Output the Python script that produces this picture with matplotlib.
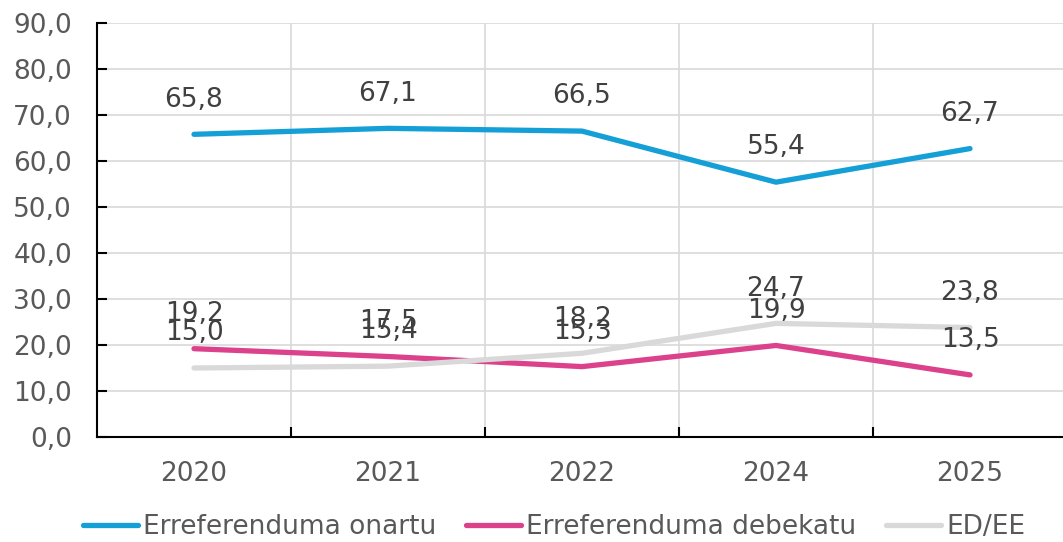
import numpy as np
import matplotlib.pyplot as plt
from matplotlib.ticker import FuncFormatter

years = ['2020', '2021', '2022', '2024', '2025']
onartu = [65.8, 67.1, 66.5, 55.4, 62.7]
debekatu = [19.2, 17.5, 15.3, 19.9, 13.5]
ed_ee = [15.0, 15.4, 18.2, 24.7, 23.8]

names = ['Erreferenduma onartu', 'Erreferenduma debekatu', 'ED/EE']
colors = ['#149FD7', '#DC418C', '#D9D9D9']

plt.rcParams['font.family'] = 'DejaVu Sans'
FS = 19

fig = plt.figure(figsize=(10.63, 5.42), dpi=100)
ax = fig.add_axes([97 / 1063, 1 - 437 / 542, 970 / 1063, 414 / 542])

x = np.arange(len(years))
for vals, name, col in zip([onartu, debekatu, ed_ee], names, colors):
    ax.plot(x, vals, color=col, lw=3.8, solid_capstyle='round',
            solid_joinstyle='round', label=name)

# labels drawn after lines so they sit on top
for vals in [onartu, debekatu, ed_ee]:
    for xi, v in zip(x, vals):
        ax.annotate(f'{v:.1f}'.replace('.', ','), (xi, v), xytext=(0, 25),
                    textcoords='offset points', ha='center', va='center',
                    fontsize=FS, color='#404040')

ax.set_xlim(-0.5, len(years) - 0.5)
ax.set_ylim(0, 90)
ax.set_yticks(np.arange(0, 91, 10))
ax.yaxis.set_major_formatter(FuncFormatter(lambda v, p: f'{v:.1f}'.replace('.', ',')))
ax.set_xticks(x)
ax.set_xticklabels(years)
ax.set_xticks(np.arange(0.5, len(years) - 0.5), minor=True)

ax.grid(axis='y', color='#D9D9D9', lw=1.2)
ax.grid(axis='x', which='minor', color='#D9D9D9', lw=1.2)
ax.set_axisbelow(True)

for s in ['top', 'right']:
    ax.spines[s].set_visible(False)
ax.spines['left'].set_linewidth(1.5)
ax.spines['bottom'].set_linewidth(1.5)

ax.tick_params(axis='y', direction='in', length=7, width=1.5, pad=18,
               labelsize=FS, labelcolor='#595959')
ax.tick_params(axis='x', which='major', length=0, pad=17,
               labelsize=FS, labelcolor='#595959')
ax.tick_params(axis='x', which='minor', direction='in', length=7, width=1.5)

fig.legend(loc='center', bbox_to_anchor=(554 / 1063, 1 - 527 / 542), ncol=3,
           frameon=False, fontsize=FS, labelcolor='#595959',
           handlelength=2.1, handletextpad=0.2, columnspacing=1.1)

fig.savefig('out.png', dpi=100)
